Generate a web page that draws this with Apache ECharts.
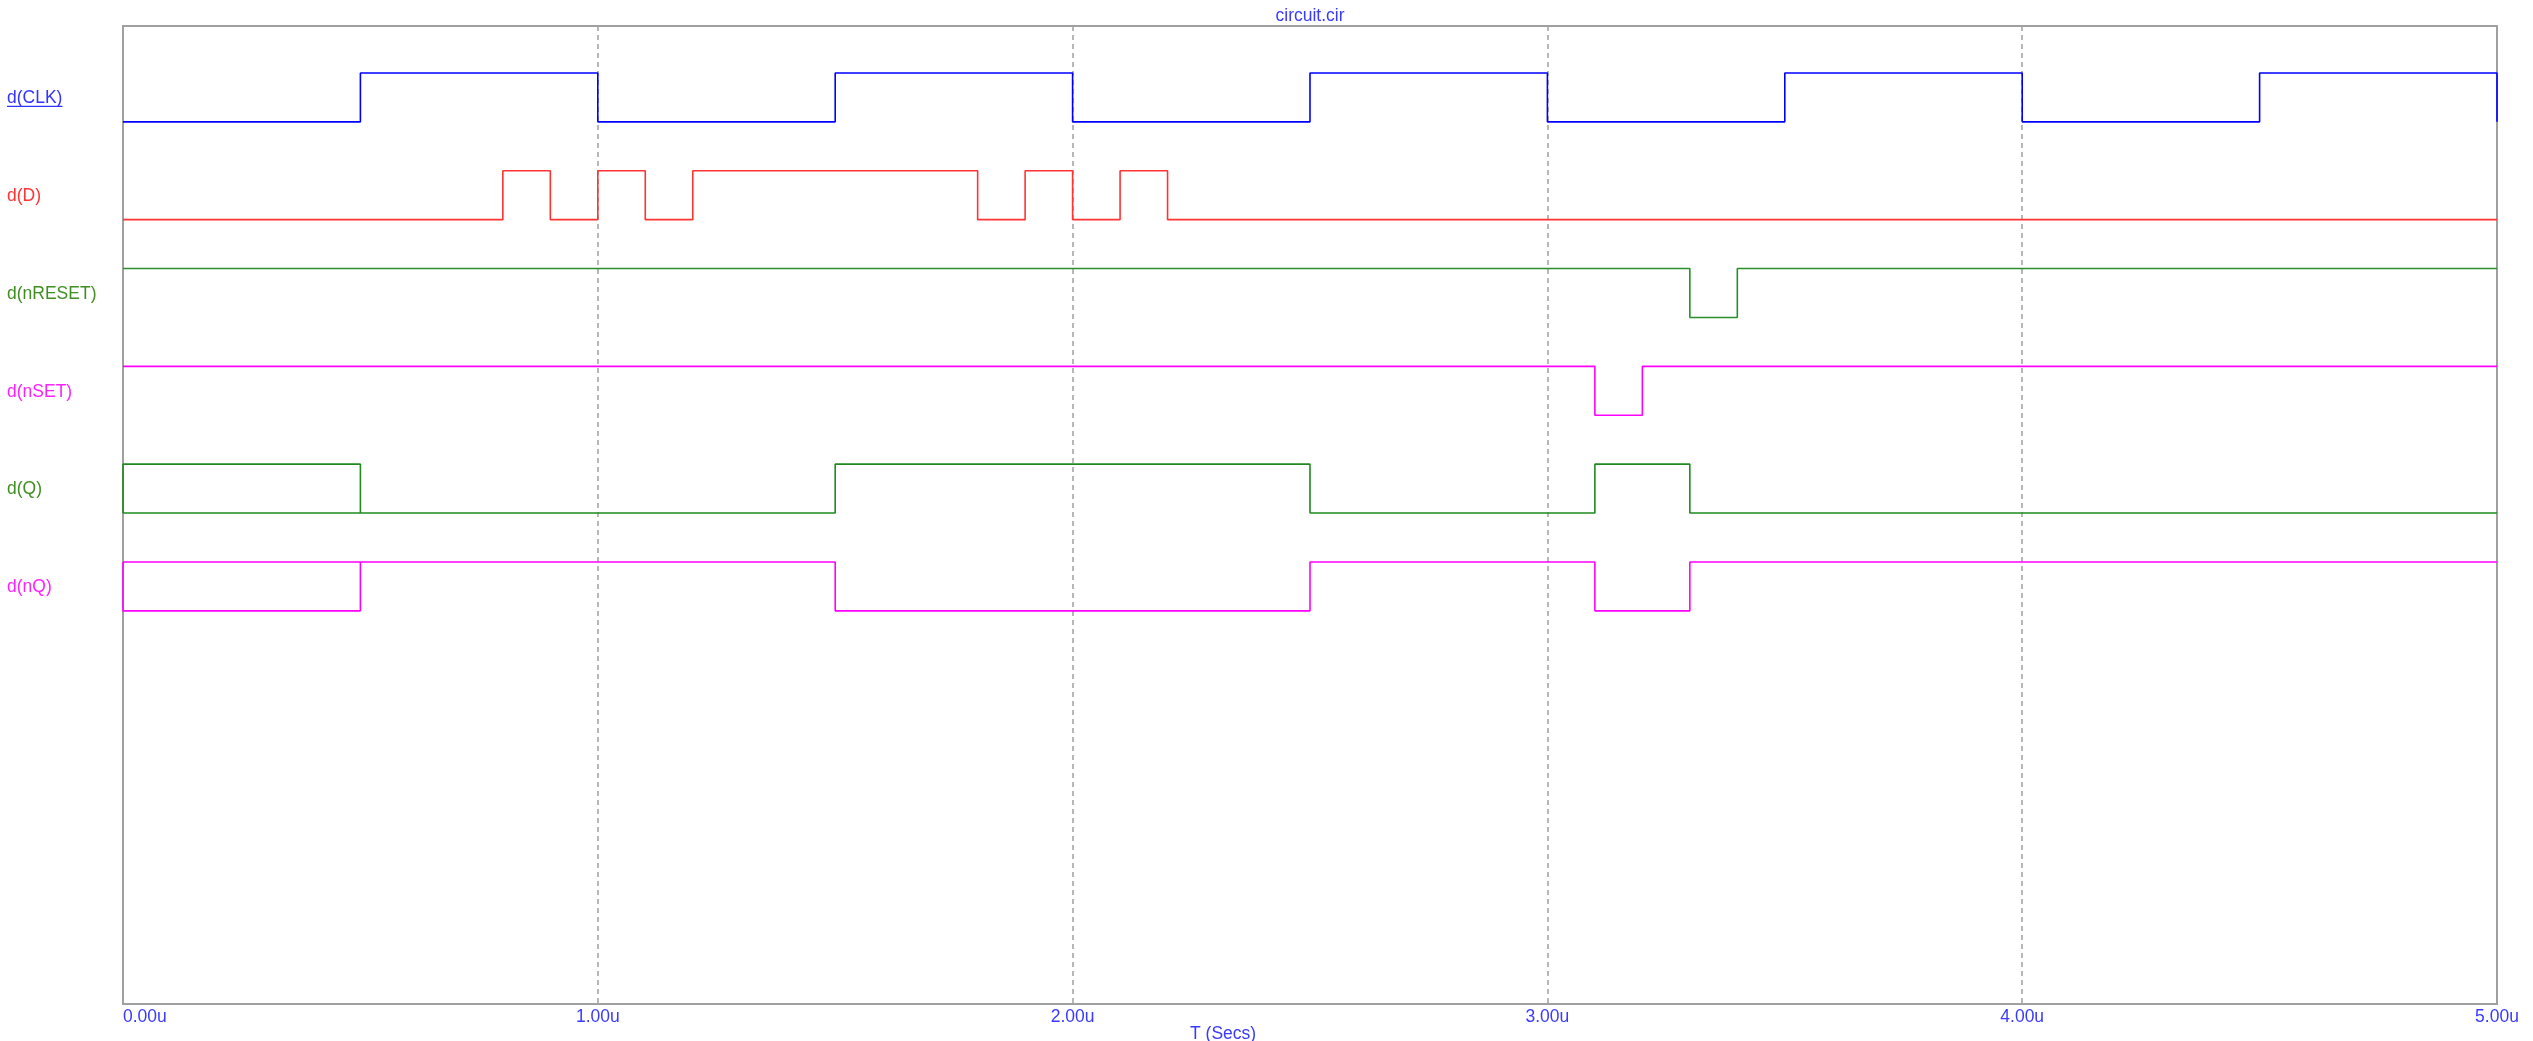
<!DOCTYPE html>
<html>
<head>
<meta charset="utf-8">
<style>
html,body{margin:0;padding:0;background:#fff;}
#chart{width:2533px;height:1041px;}
</style>
<script src="https://cdn.jsdelivr.net/npm/echarts@6/dist/echarts.min.js"></script>
</head>
<body>
<div id="chart"></div>
<script>
// ---- data ----
const titleText = 'circuit.cir';
const xAxisName = 'T (Secs)';
const xTicks = [0, 1, 2, 3, 4, 5];           // microseconds
const signalNames = ['d(CLK)', 'd(D)', 'd(nRESET)', 'd(nSET)', 'd(Q)', 'd(nQ)'];
// initial state: 0 low, 1 high, 'X' unknown (drawn as box)
const initStates = [0, 0, 1, 1, 'X', 'X'];
// transition times (us) for each signal
const clkEdges    = [0.5, 1.0, 1.5, 2.0, 2.5, 3.0, 3.5, 4.0, 4.5, 5.0];
const dEdges      = [0.8, 0.9, 1.0, 1.1, 1.2, 1.8, 1.9, 2.0, 2.1, 2.2];
const nresetEdges = [3.3, 3.4];
const nsetEdges   = [3.1, 3.2];
const qEdges      = [0.5, 1.5, 2.5, 3.1, 3.3];
const nqEdges     = [0.5, 1.5, 2.5, 3.1, 3.3];
// state after leaving the unknown phase
const qAfterX  = 0;
const nqAfterX = 1;
const T_END = 5.0;

const edgeLists = [clkEdges, dEdges, nresetEdges, nsetEdges, qEdges, nqEdges];
const afterX = [null, null, null, null, qAfterX, nqAfterX];

// ---- styling ----
const lineColors  = ['#0000ff', '#ff3333', '#2a8f2a', '#ff00ff', '#1f8a1f', '#ff00ff'];
const labelColors = ['#3333ff', '#ff3333', '#3f8f22', '#ff22ff', '#3f8f22', '#ff22ff'];
const LOW = 0.02, HIGH = 0.52;

function buildPath(i) {
  const base = 9 - i;
  const lv = s => base + (s ? HIGH : LOW);
  const edges = edgeLists[i];
  let pts = [];
  let state = initStates[i];
  let k = 0;
  if (state === 'X') {
    const t1 = edges[0];
    const s = afterX[i];
    pts.push([0, lv(s)], [0, lv(!s)], [t1, lv(!s)], [t1, lv(s)], [0, lv(s)], [t1, lv(s)]);
    state = s ? 1 : 0;
    k = 1;
  } else {
    pts.push([0, lv(state)]);
  }
  for (; k < edges.length; k++) {
    const t = edges[k];
    pts.push([t, lv(state)]);
    state = state ? 0 : 1;
    pts.push([t, lv(state)]);
  }
  const last = pts[pts.length - 1];
  if (last[0] < T_END) pts.push([T_END, lv(state)]);
  return pts;
}

const chart = echarts.init(document.getElementById('chart'), null, {renderer: 'canvas'});
const FONT = '"Liberation Sans", Arial, sans-serif';

const series = signalNames.map((n, i) => ({
  name: n,
  type: 'line',
  data: buildPath(i),
  showSymbol: false,
  symbol: 'none',
  animation: false,
  lineStyle: {color: lineColors[i], width: 1.6},
  clip: false
}));

chart.setOption({
  animation: false,
  backgroundColor: '#ffffff',
  title: [
    {text: titleText, left: 1310, top: 7, textAlign: 'center', padding: 0,
     textStyle: {color: '#3a3aff', fontSize: 17.5, fontWeight: 'normal', fontFamily: FONT}},
    {text: xAxisName, left: 1190, top: 1025, padding: 0,
     textStyle: {color: '#3a3aff', fontSize: 17.5, fontWeight: 'normal', fontFamily: FONT}}
  ],
  grid: {left: 123, right: 36, top: 26, bottom: 37, show: true,
         borderColor: '#a0a0a0', borderWidth: 2, backgroundColor: '#ffffff'},
  xAxis: {
    type: 'value', min: 0, max: 5, interval: 1,
    axisLine: {show: false}, axisTick: {show: false},
    splitLine: {show: true, lineStyle: {color: '#a0a0a0', type: [5, 4], width: 1.5}},
    axisLabel: {
      color: '#3a3aff', fontSize: 17.5, fontFamily: FONT, margin: 4,
      alignMinLabel: 'left',
      formatter: v => v.toFixed(2) + 'u'
    }
  },
  yAxis: {
    type: 'value', min: 0, max: 10, interval: 1,
    show: false, splitLine: {show: false}
  },
  series: series
});

// left-side signal labels, positioned through the chart's own scale
const ctx = document.createElement('canvas').getContext('2d');
ctx.font = '17.5px ' + FONT;
const graphics = [];
signalNames.forEach((n, i) => {
  const base = 9 - i;
  const y = chart.convertToPixel({gridIndex: 0}, [0, base + (LOW + HIGH) / 2])[1];
  graphics.push({
    type: 'text', left: 7, top: y - 8,
    style: {text: n, fill: labelColors[i], font: '17.5px ' + FONT, textVerticalAlign: 'top'}
  });
  if (i === 0) {
    const w = ctx.measureText(n).width;
    graphics.push({
      type: 'line',
      shape: {x1: 7, y1: y + 9, x2: 7 + w, y2: y + 9},
      style: {stroke: labelColors[i], lineWidth: 1.3}
    });
  }
});
chart.setOption({graphic: graphics});
</script>
</body>
</html>
